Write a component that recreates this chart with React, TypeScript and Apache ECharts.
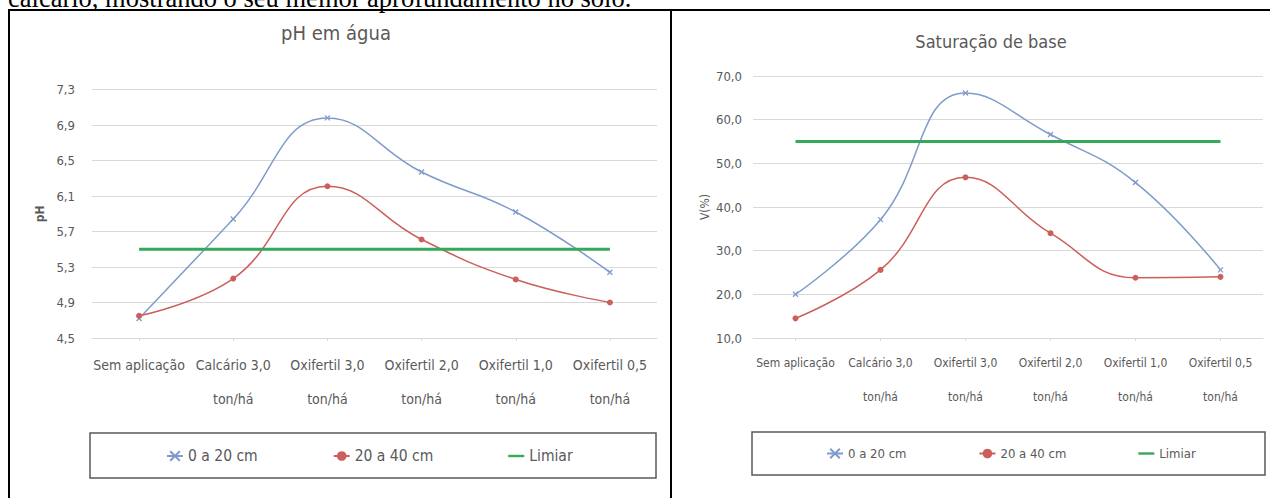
import React, { useEffect, useRef } from "react";
import * as echarts from "echarts";

const categories = [
  "Sem aplicação",
  "Calcário 3,0\nton/há",
  "Oxifertil 3,0\nton/há",
  "Oxifertil 2,0\nton/há",
  "Oxifertil 1,0\nton/há",
  "Oxifertil 0,5\nton/há",
];
const seriesNames = ["0 a 20 cm", "20 a 40 cm", "Limiar"];
const ph0a20 = [4.72, 5.84, 6.98, 6.37, 5.92, 5.24];
const ph20a40 = [4.75, 5.17, 6.21, 5.61, 5.16, 4.9];
const phLimiar = [5.5, 5.5, 5.5, 5.5, 5.5, 5.5];
const v0a20 = [20.0, 37.1, 66.1, 56.6, 45.6, 25.6];
const v20a40 = [14.5, 25.6, 46.8, 34.0, 23.8, 24.0];
const vLimiar = [55, 55, 55, 55, 55, 55];
const titles = ["pH em água", "Saturação de base"];
const yNames = ["pH", "V(%)"];
const topText = "calcário, mostrando o seu melhor aprofundamento no solo.";

const FONT = "'Liberation Sans Narrow', 'DejaVu Sans Condensed', 'Liberation Sans', sans-serif";
const GREY = "#595959";
const BLUE = "#7f9bcb";
const RED = "#cc5f5c";
const GREEN = "#35a85a";
const XSYM = "path://M0,0L10,10M10,0L0,10";
const LINE_ICON = "path://M0,0H20V3H0Z";

const fmt = (v: number) => v.toFixed(1).replace(".", ",");

export default function App() {
  const ref = useRef<HTMLDivElement>(null);
  useEffect(() => {
    if (!ref.current) return;
    const chart = echarts.init(ref.current, null, { renderer: "svg" });
    const lineSeries = (name: string, xi: number, data: number[], kind: number) => {
      if (kind === 2) {
        return {
          type: "line", name, xAxisIndex: xi, yAxisIndex: xi, data,
          symbol: "none", smooth: false,
          lineStyle: { color: GREEN, width: 3 }, itemStyle: { color: GREEN },
        };
      }
      const c = kind === 0 ? BLUE : RED;
      return {
        type: "line", name, xAxisIndex: xi, yAxisIndex: xi, data,
        smooth: 0.45,
        symbol: kind === 0 ? XSYM : "circle",
        symbolSize: kind === 0 ? 5 : 6,
        lineStyle: { color: c, width: 1.5 },
        itemStyle: kind === 0 ? { color: c, borderColor: c, borderWidth: 1.3 } : { color: c, borderColor: c, borderWidth: 0 },
      };
    };
    const xAxis = (gi: number, fs: number, lh: number, margin: number) => ({
      type: "category", gridIndex: gi, data: categories, boundaryGap: true,
      axisLine: { lineStyle: { color: "#d9d9d9", width: 1 } },
      axisTick: { show: true, alignWithLabel: true, length: 3, lineStyle: { color: "#d9d9d9" } },
      axisLabel: { interval: 0, fontSize: fs, lineHeight: lh, margin, color: GREY, fontFamily: FONT },
    });
    const yAxis = (gi: number, min: number, max: number, interval: number, name: string, nameGap: number, bold: boolean, margin: number, fs: number) => ({
      type: "value", gridIndex: gi, min, max, interval,
      name, nameLocation: "middle", nameGap,
      nameTextStyle: { fontSize: 12, fontWeight: bold ? "bold" : "normal", color: GREY, fontFamily: FONT },
      axisLine: { show: false }, axisTick: { show: false },
      splitLine: { lineStyle: { color: "#d9d9d9", width: 1 } },
      axisLabel: { fontSize: fs, color: GREY, fontFamily: FONT, margin, formatter: fmt },
    });
    const legendData = [
      { name: seriesNames[0] },
      { name: seriesNames[1] },
      { name: seriesNames[2], icon: LINE_ICON },
    ];
    chart.setOption({
      animation: false,
      backgroundColor: "#ffffff",
      title: [
        { text: titles[0], left: 331, top: 18, textAlign: "center", textStyle: { fontSize: 20, fontWeight: "normal", color: GREY, fontFamily: FONT } },
        { text: titles[1], left: 986, top: 27, textAlign: "center", textStyle: { fontSize: 18, fontWeight: "normal", color: GREY, fontFamily: FONT } },
      ],
      grid: [
        { left: 92, right: 1270 - 657, top: 89.5, bottom: 498 - 338 },
        { left: 753, right: 1270 - 1263, top: 76, bottom: 498 - 338 },
      ],
      xAxis: [xAxis(0, 14, 34, 10), xAxis(1, 12, 34, 8)],
      yAxis: [
        yAxis(0, 4.5, 7.3, 0.4, yNames[0], 46, true, 17, 13),
        yAxis(1, 10, 70, 10, yNames[1], 42, false, 11, 13),
      ],
      legend: [
        { data: legendData, left: 166, top: 448, padding: 0, itemGap: 75, itemWidth: 16, itemHeight: 12,
          textStyle: { fontSize: 15.5, color: GREY, fontFamily: FONT } },
        { data: legendData, left: 826, top: 447, padding: 0, itemGap: 72, itemWidth: 16, itemHeight: 12,
          textStyle: { fontSize: 13, color: GREY, fontFamily: FONT } },
      ],
      graphic: [
        { type: "text", x: 8, y: -2, silent: true,
          style: { text: topText, fontSize: 26.5, fontFamily: "'Liberation Serif', 'Times New Roman', serif", fill: "#000", verticalAlign: "middle", align: "left" } },
        { type: "line", silent: true, shape: { x1: 8, y1: 10, x2: 1270, y2: 10 }, style: { stroke: "#000", lineWidth: 2 } },
        { type: "line", silent: true, shape: { x1: 9, y1: 10, x2: 9, y2: 498 }, style: { stroke: "#000", lineWidth: 2 } },
        { type: "line", silent: true, shape: { x1: 671, y1: 10, x2: 671, y2: 498 }, style: { stroke: "#000", lineWidth: 2 } },
        { type: "rect", silent: true, shape: { x: 90, y: 433, width: 566, height: 45 }, style: { fill: "none", stroke: GREY, lineWidth: 1.5 } },
        { type: "rect", silent: true, shape: { x: 752, y: 432, width: 513, height: 43 }, style: { fill: "none", stroke: GREY, lineWidth: 1.5 } },
      ],
      series: [
        lineSeries(seriesNames[0], 0, ph0a20, 0),
        lineSeries(seriesNames[1], 0, ph20a40, 1),
        lineSeries(seriesNames[2], 0, phLimiar, 2),
        lineSeries(seriesNames[0], 1, v0a20, 0),
        lineSeries(seriesNames[1], 1, v20a40, 1),
        lineSeries(seriesNames[2], 1, vLimiar, 2),
      ],
    });
    return () => chart.dispose();
  }, []);
  return (
    <div
      ref={ref}
      style={{ position: "absolute", left: 0, top: 0, width: 1270, height: 498, background: "#fff" }}
    />
  );
}
